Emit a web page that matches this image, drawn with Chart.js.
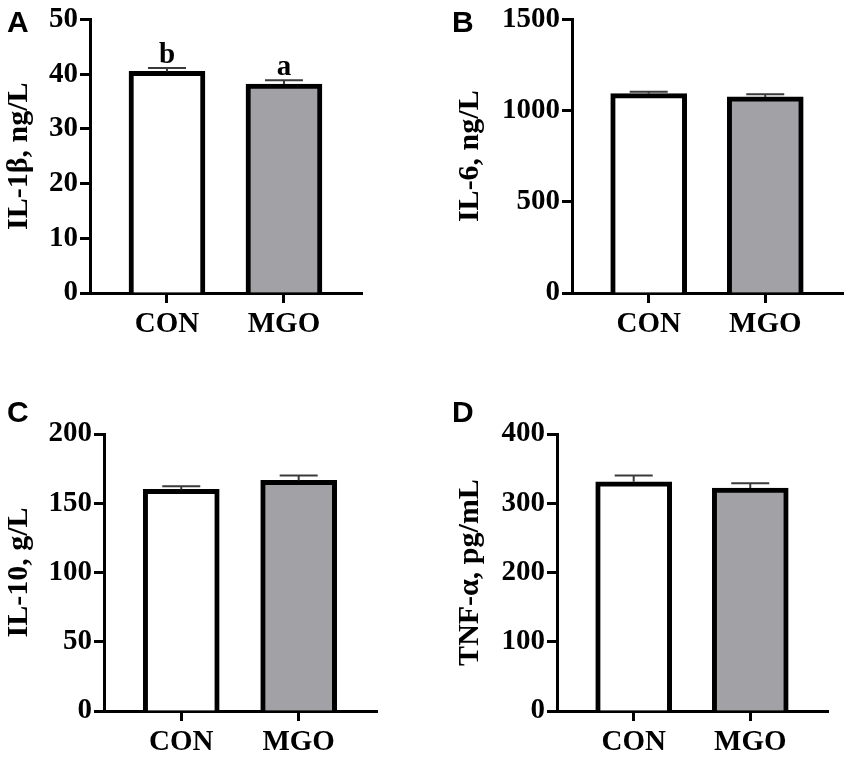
<!DOCTYPE html>
<html>
<head>
<meta charset="utf-8">
<script src="https://cdn.jsdelivr.net/npm/chart.js@4"></script>
<style>
  html, body { margin: 0; padding: 0; background: #fff; }
  #wrap { position: relative; width: 851px; height: 761px; overflow: hidden; }
  .panel { position: absolute; }
</style>
</head>
<body>
<div id="wrap">
  <div class="panel" style="left:0px;top:0px;width:425px;height:380px"><canvas id="chartA"></canvas></div>
  <div class="panel" style="left:425px;top:0px;width:426px;height:380px"><canvas id="chartB"></canvas></div>
  <div class="panel" style="left:0px;top:380px;width:425px;height:381px"><canvas id="chartC"></canvas></div>
  <div class="panel" style="left:425px;top:380px;width:426px;height:381px"><canvas id="chartD"></canvas></div>
</div>
<script>
// groups on the x axis
const groups = ["CON", "MGO"];
const groupPos = [1, 2];

// A: IL-1beta (ng/L)
const il1b = [40.5, 38.2];
const il1bErr = [0.6, 0.7];
const il1bLetters = ["b", "a"];

// B: IL-6 (ng/L)
const il6 = [1093, 1075];
const il6Err = [10, 14];

// C: IL-10 (g/L)
const il10 = [160, 166.5];
const il10Err = [2.3, 3.5];

// D: TNF-alpha (pg/mL)
const tnf = [331, 322];
const tnfErr = [9, 7];

const serif = "'Liberation Serif', 'Times New Roman', serif";
const sans = "'Liberation Sans', Arial, sans-serif";

// draws the upper error bars, the letters above them and the panel letter
const extrasPlugin = {
  id: "extras",
  afterDatasetsDraw(chart, args, opts) {
    const ctx = chart.ctx;
    const x = chart.scales.x;
    const y = chart.scales.y;
    const vals = chart.data.datasets[0].data;
    ctx.save();
    ctx.strokeStyle = "#3a3a3a";
    ctx.lineWidth = 2;
    vals.forEach((d, i) => {
      const px = x.getPixelForValue(d.x);
      const top = y.getPixelForValue(d.y + opts.err[i]);
      const base = y.getPixelForValue(d.y);
      ctx.beginPath();
      ctx.moveTo(px, base);
      ctx.lineTo(px, top);
      ctx.moveTo(px - 19, top);
      ctx.lineTo(px + 19, top);
      ctx.stroke();
      if (opts.letters) {
        ctx.fillStyle = "#000";
        ctx.font = "bold 29px " + serif;
        ctx.textAlign = "center";
        ctx.textBaseline = "alphabetic";
        ctx.fillText(opts.letters[i], px, top - 5);
      }
    });
    ctx.fillStyle = "#000";
    ctx.font = "bold 30px " + sans;
    ctx.textAlign = "left";
    ctx.textBaseline = "alphabetic";
    ctx.fillText(opts.tag, opts.tagX, opts.tagY);
    ctx.restore();
  }
};

function makePanel(id, cfg) {
  const data = {
    datasets: [{
      data: cfg.values.map((v, i) => ({ x: groupPos[i], y: v })),
      backgroundColor: ["#ffffff", "#a2a2a6"],
      borderColor: "#000",
      borderWidth: 5,
      barThickness: 76,
    }],
  };

  const config = {
    type: "bar",
    data,
    plugins: [extrasPlugin],
    options: {
      responsive: true,
      maintainAspectRatio: false,
      animation: false,
      layout: { padding: cfg.pad },
      plugins: {
        legend: { display: false },
        tooltip: { enabled: false },
        extras: { err: cfg.err, letters: cfg.letters, tag: cfg.tag, tagX: cfg.tagX, tagY: cfg.tagY },
      },
      scales: {
        x: {
          type: "linear",
          offset: false,
          min: 0.342,
          max: 2.667,
          afterBuildTicks: (axis) => { axis.ticks = groupPos.map((v) => ({ value: v })); },
          afterFit: (axis) => { axis.height = cfg.xHeight; },
          ticks: {
            callback: (v) => groups[Math.round(v) - 1],
            color: "#000",
            padding: 4,
            font: { family: serif, size: 29, weight: "bold" },
          },
          grid: { offset: false, drawOnChartArea: false, drawTicks: true, tickLength: 10, tickWidth: 3, tickColor: "#000" },
          border: { display: true, color: "#000", width: 3 },
        },
        y: {
          min: 0,
          max: cfg.max,
          afterBuildTicks: (axis) => {
            const t = [];
            for (let v = 0; v <= cfg.max; v += cfg.step) t.push({ value: v });
            axis.ticks = t;
          },
          afterFit: (axis) => { axis.width = cfg.yWidth; },
          ticks: {
            callback: (v) => String(v),
            color: "#000",
            padding: 2,
            font: { family: serif, size: 29, weight: "bold" },
          },
          grid: { drawOnChartArea: false, drawTicks: true, tickLength: 10, tickWidth: 3, tickColor: "#000" },
          border: { display: true, color: "#000", width: 3 },
          title: {
            display: true,
            text: cfg.title,
            color: "#000",
            padding: { top: cfg.titlePad, bottom: 0 },
            font: { family: serif, size: 30, weight: "bold" },
          },
        },
      },
    },
  };

  return new Chart(document.getElementById(id), config);
}

makePanel("chartA", {
  values: il1b, err: il1bErr, letters: il1bLetters,
  max: 50, step: 10, title: "IL-1β, ng/L",
  pad: { top: 18, right: 63, bottom: 0, left: 0 },
  yWidth: 90, xHeight: 87, titlePad: 1,
  tag: "A", tagX: 7, tagY: 32,
});

makePanel("chartB", {
  values: il6, err: il6Err,
  max: 1500, step: 500, title: "IL-6, ng/L",
  pad: { top: 18, right: 8, bottom: 0, left: 0 },
  yWidth: 147, xHeight: 87, titlePad: 27,
  tag: "B", tagX: 27, tagY: 32,
});

makePanel("chartC", {
  values: il10, err: il10Err,
  max: 200, step: 50, title: "IL-10, g/L",
  pad: { top: 54, right: 48, bottom: 0, left: 0 },
  yWidth: 104, xHeight: 50, titlePad: 1,
  tag: "C", tagX: 7, tagY: 42,
});

makePanel("chartD", {
  values: tnf, err: tnfErr,
  max: 400, step: 100, title: "TNF-α, pg/mL",
  pad: { top: 54, right: 23, bottom: 0, left: 0 },
  yWidth: 132, xHeight: 50, titlePad: 27,
  tag: "D", tagX: 27, tagY: 42,
});
</script>
</body>
</html>
